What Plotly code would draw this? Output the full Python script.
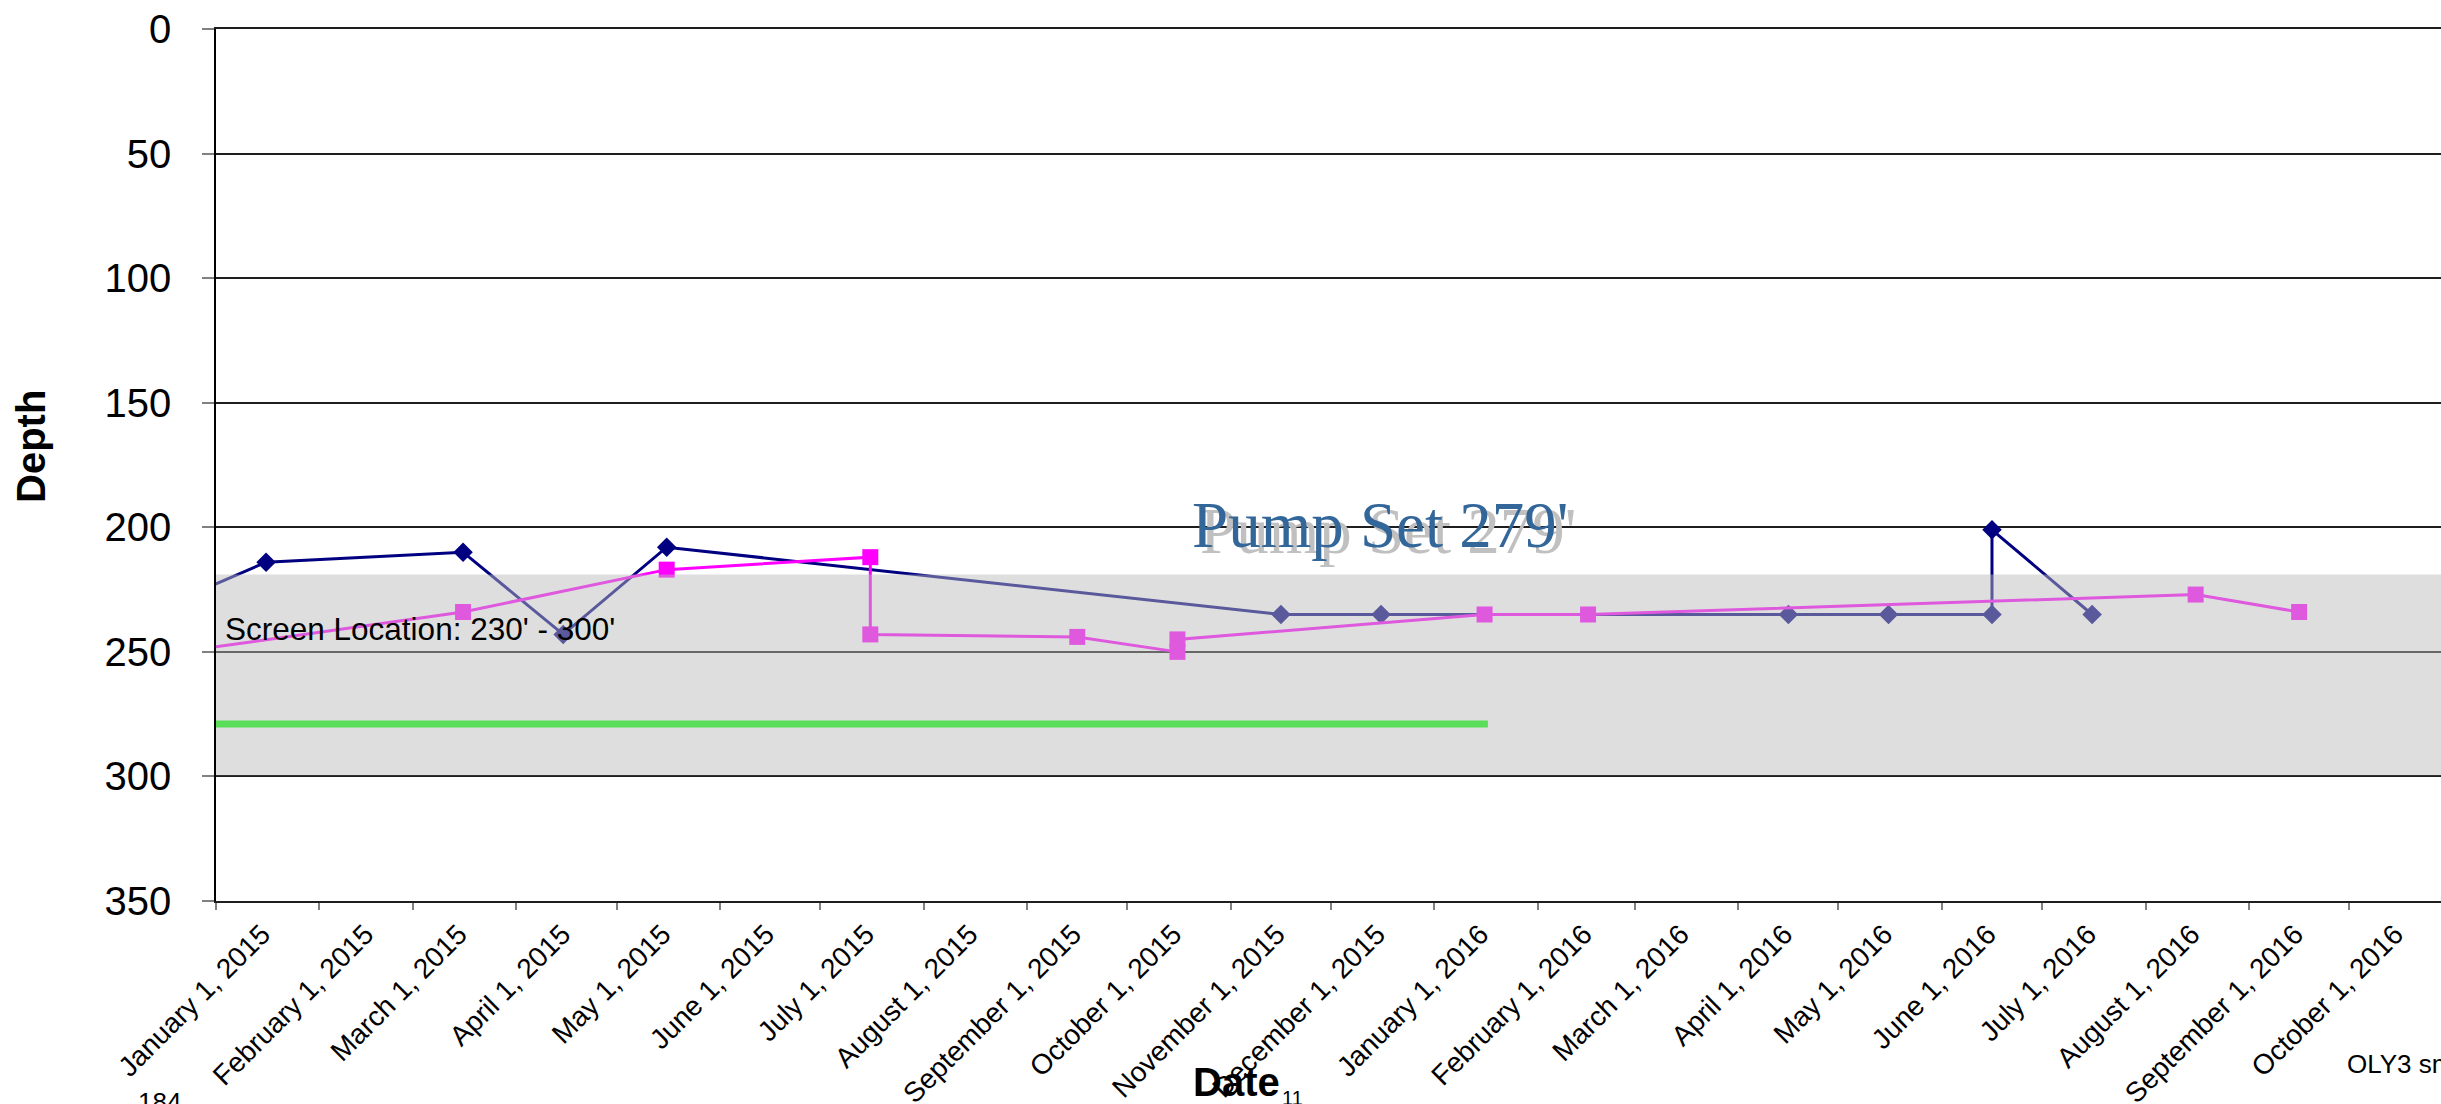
import plotly.graph_objects as go

# ---- data ----
blue_dates = ["2014-12-16", "2015-01-16", "2015-03-16", "2015-04-15", "2015-05-16",
              "2015-11-16", "2015-12-16", "2016-04-16", "2016-05-16", "2016-06-16",
              "2016-06-16", "2016-07-16"]
blue_depth = [232, 214, 210, 243, 208, 235, 235, 235, 235, 235, 201, 235]

pink_dates = ["2014-12-16", "2015-03-16", "2015-05-16", "2015-07-16", "2015-07-16",
              "2015-09-16", "2015-10-16", "2015-10-16", "2016-01-16", "2016-02-16",
              "2016-08-16", "2016-09-16"]
pink_depth = [251, 234, 217, 212, 243, 244, 250, 245, 235, 235, 227, 234]

pump_dates = ["2015-01-01", "2016-01-17"]
pump_depth = [279, 279]

screen_top = 219
screen_bottom = 299.5

tick_dates = ["2015-01-01", "2015-02-01", "2015-03-01", "2015-04-01", "2015-05-01",
              "2015-06-01", "2015-07-01", "2015-08-01", "2015-09-01", "2015-10-01",
              "2015-11-01", "2015-12-01", "2016-01-01", "2016-02-01", "2016-03-01",
              "2016-04-01", "2016-05-01", "2016-06-01", "2016-07-01", "2016-08-01",
              "2016-09-01", "2016-10-01"]
tick_labels = ["January 1, 2015", "February 1, 2015", "March 1, 2015", "April 1, 2015",
               "May 1, 2015", "June 1, 2015", "July 1, 2015", "August 1, 2015",
               "September 1, 2015", "October 1, 2015", "November 1, 2015",
               "December 1, 2015", "January 1, 2016", "February 1, 2016",
               "March 1, 2016", "April 1, 2016", "May 1, 2016", "June 1, 2016",
               "July 1, 2016", "August 1, 2016", "September 1, 2016", "October 1, 2016"]
depth_ticks = [0, 50, 100, 150, 200, 250, 300, 350]

# ---- layout geometry ----
W, H = 2441, 1104
ML, MR, MT, MB = 216, 0, 29, 203
PW, PH = W - ML - MR, H - MT - MB


def px_x(px):
    return (px - ML) / PW


def px_y(py):
    return (H - MB - py) / PH


SANS = "Liberation Sans, Arial, sans-serif"
SERIF = "Liberation Serif, Times New Roman, serif"

fig = go.Figure()

fig.add_trace(go.Scatter(
    x=pump_dates, y=pump_depth, mode="lines",
    line=dict(color="#00ff00", width=7), hoverinfo="skip"))

fig.add_trace(go.Scatter(
    x=blue_dates, y=blue_depth, mode="lines+markers",
    line=dict(color="#000080", width=3),
    marker=dict(symbol="diamond", size=15, color="#000080"), cliponaxis=True))

fig.add_trace(go.Scatter(
    x=pink_dates, y=pink_depth, mode="lines+markers",
    line=dict(color="#ff00ff", width=3),
    marker=dict(symbol="square", size=16, color="#ff00ff"), cliponaxis=True))

# translucent screen band drawn over the series
fig.add_shape(type="rect", xref="paper", x0=0, x1=1, yref="y",
              y0=screen_top, y1=screen_bottom,
              fillcolor="rgba(187,187,187,0.48)", line=dict(width=0), layer="above")

ann = []
ann.append(dict(text="Screen Location: 230' - 300'", xref="paper", yref="paper",
                x=px_x(223), y=px_y(629), xanchor="left", yanchor="middle",
                showarrow=False, font=dict(family=SANS, size=31.5, color="black")))
# shadowed pump-set label
ann.append(dict(text="Pump Set 279'", xref="paper", yref="paper",
                x=px_x(1388), y=px_y(531), xanchor="center", yanchor="middle",
                showarrow=False, font=dict(family=SERIF, size=65, color="#c0c0c0")))
ann.append(dict(text="Pump Set 279'", xref="paper", yref="paper",
                x=px_x(1380), y=px_y(525), xanchor="center", yanchor="middle",
                showarrow=False, font=dict(family=SERIF, size=65, color="#336699")))
ann.append(dict(text="<b>Depth</b>", xref="paper", yref="paper",
                x=px_x(31), y=px_y(447), xanchor="center", yanchor="middle",
                textangle=-90, showarrow=False,
                font=dict(family=SANS, size=40, color="black")))
ann.append(dict(text="<b>Date</b>", xref="paper", yref="paper",
                x=px_x(1236), y=px_y(1082), xanchor="center", yanchor="middle",
                showarrow=False, font=dict(family=SANS, size=40, color="black")))
ann.append(dict(text="11", xref="paper", yref="paper",
                x=px_x(1280), y=px_y(1098), xanchor="left", yanchor="middle",
                showarrow=False, font=dict(family=SANS, size=20, color="black")))
ann.append(dict(text="184", xref="paper", yref="paper",
                x=px_x(136), y=px_y(1102), xanchor="left", yanchor="middle",
                showarrow=False, font=dict(family=SANS, size=26, color="black")))
ann.append(dict(text="OLY3 smart", xref="paper", yref="paper",
                x=px_x(2345), y=px_y(1064), xanchor="left", yanchor="middle",
                showarrow=False, font=dict(family=SANS, size=26, color="black")))

fig.update_layout(
    width=W, height=H,
    margin=dict(l=ML, r=MR, t=MT, b=MB, pad=0, autoexpand=False),
    paper_bgcolor="white", plot_bgcolor="white",
    showlegend=False,
    annotations=ann,
    font=dict(family=SANS, color="black"),
)

fig.update_xaxes(
    type="date", range=["2015-01-01", "2016-10-28 12:00"],
    tickmode="array", tickvals=tick_dates, ticktext=tick_labels,
    tickangle=-45, tickfont=dict(family=SANS, size=28, color="black"),
    ticks="outside", ticklen=7, tickcolor="#808080", tickwidth=1.5,
    showline=True, mirror=True, linecolor="#1e1e1e", linewidth=1.5,
    showgrid=False, zeroline=False, ticklabelshift=46, ticklabelstandoff=-3,
    automargin=False,
)

fig.update_yaxes(
    range=[350, 0], tickmode="array", tickvals=depth_ticks,
    ticktext=[str(v) for v in depth_ticks],
    tickfont=dict(family=SANS, size=40, color="black"),
    ticks="outside", ticklen=12, tickcolor="#808080", tickwidth=1.5,
    showline=True, linecolor="black", linewidth=1.5,
    showgrid=True, gridcolor="#1e1e1e", gridwidth=1.5, zeroline=False,
    ticklabelstandoff=23, automargin=False,
)

fig.write_html(
    "out.html",
    config={"displayModeBar": False},
    post_script="document.body.style.margin='0px';"
                "document.documentElement.style.overflow='hidden';",
)
